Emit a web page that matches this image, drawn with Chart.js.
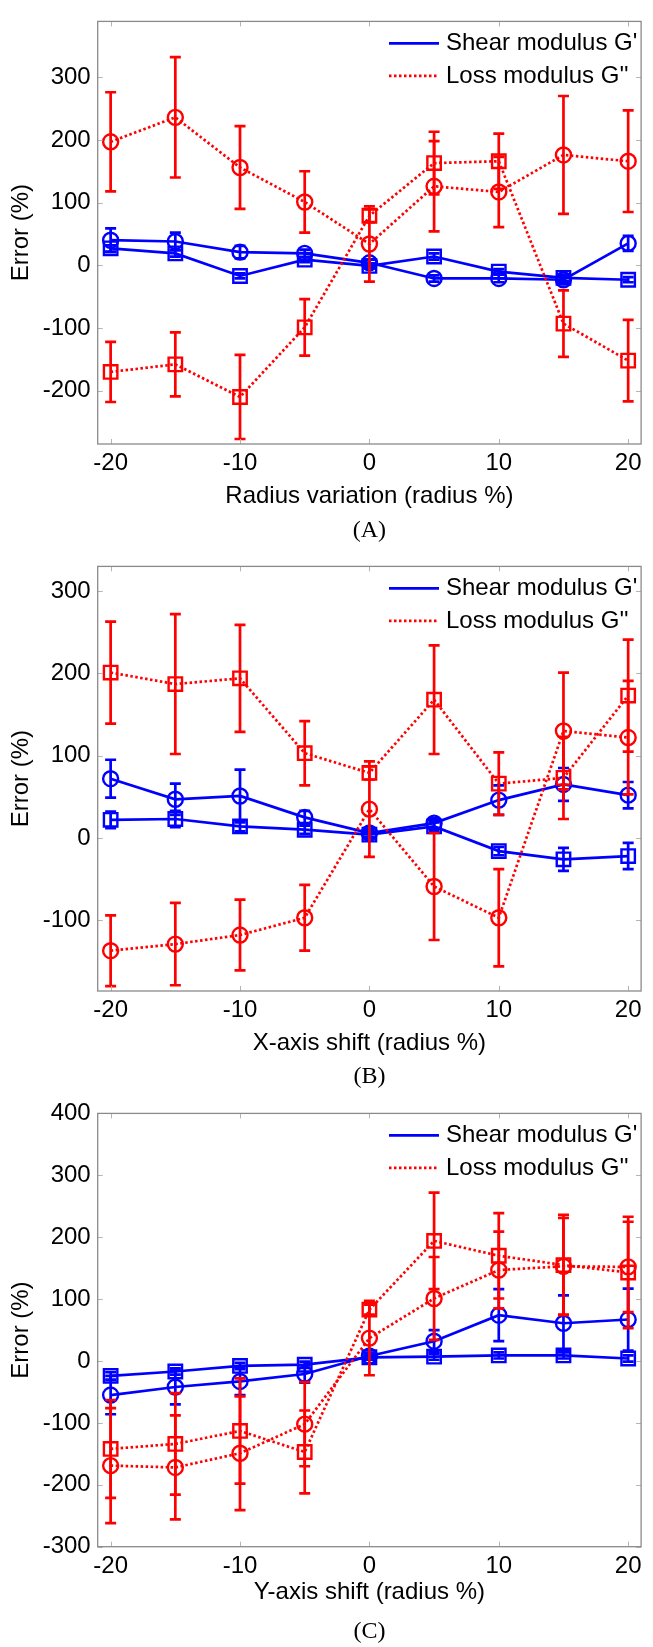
<!DOCTYPE html>
<html>
<head>
<meta charset="utf-8">
<script src="https://cdn.jsdelivr.net/npm/chart.js@4.4.1/dist/chart.umd.min.js"></script>
<style>
  html, body { margin: 0; padding: 0; background: #ffffff; }
  body { width: 653px; height: 1647px; position: relative; overflow: hidden; }
  canvas { position: absolute; left: 0; }
</style>
</head>
<body>
<canvas id="panelA" width="653" height="545" style="top:0px"></canvas>
<canvas id="panelB" width="653" height="547" style="top:545px"></canvas>
<canvas id="panelC" width="653" height="555" style="top:1092px"></canvas>
<script>
// Offsets shared by all three panels (percent of radius)
const offsets = [-20, -15, -10, -5, 0, 5, 10, 15, 20];
const xTickValues = [-20, -10, 0, 10, 20];
const xTickLabels = ['-20', '-10', '0', '10', '20'];

// (A) Radius variation
const aShearCircle    = [40, 38, 21, 19, 4, -21, -21, -23, 35];
const aShearCircleErr = [19, 14, 10, 6, 5, 5, 6, 5, 12];
const aShearSquare    = [27, 19, -17, 9, -1, 14, -10, -20, -23];
const aShearSquareErr = [5, 5, 4, 4, 4, 5, 4, 5, 4];
const aLossCircle     = [197, 236, 156, 101, 34, 126, 117, 176, 166];
const aLossCircleErr  = [79, 96, 66, 49, 60, 72, 56, 94, 81];
const aLossSquare     = [-170, -158, -210, -99, 79, 163, 166, -93, -152];
const aLossSquareErr  = [48, 51, 67, 45, 10, 50, 44, 53, 65];
const aYTicks = [-200, -100, 0, 100, 200, 300];
const aYTickLabels = ['-200', '-100', '0', '100', '200', '300'];

// (B) X-axis shift
const bShearCircle    = [72, 47, 51, 25, 6, 18, 46, 65, 52];
const bShearCircleErr = [23, 19, 32, 8, 5, 6, 18, 20, 16];
const bShearSquare    = [22, 23, 14, 10, 4, 14, -16, -26, -22];
const bShearSquareErr = [10, 10, 6, 5, 4, 5, 5, 14, 16];
const bLossCircle     = [-137, -129, -118, -97, 35, -59, -97, 130, 122];
const bLossCircleErr  = [43, 50, 43, 40, 58, 65, 59, 71, 69];
const bLossSquare     = [201, 187, 194, 103, 79, 168, 66, 73, 173];
const bLossSquareErr  = [62, 85, 65, 39, 8, 66, 38, 50, 68];
const bYTicks = [-100, 0, 100, 200, 300];
const bYTickLabels = ['-100', '0', '100', '200', '300'];

// (C) Y-axis shift
const cShearCircle    = [-55, -42, -33, -21, 8, 32, 74, 61, 67];
const cShearCircleErr = [31, 28, 22, 14, 5, 18, 42, 45, 50];
const cShearSquare    = [-24, -17, -8, -6, 6, 7, 9, 9, 4];
const cShearSquareErr = [6, 5, 5, 5, 4, 5, 5, 5, 5];
const cLossCircle     = [-169, -172, -149, -102, 37, 101, 147, 153, 152];
const cLossCircleErr  = [93, 84, 92, 68, 60, 67, 62, 78, 73];
const cLossSquare     = [-142, -134, -113, -147, 83, 194, 170, 155, 143];
const cLossSquareErr  = [79, 82, 85, 67, 8, 78, 69, 81, 90];
const cYTicks = [-300, -200, -100, 0, 100, 200, 300, 400];
const cYTickLabels = ['-300', '-200', '-100', '0', '100', '200', '300', '400'];

const legendLabels = ["Shear modulus G'", "Loss modulus G''"];

const BLUE = '#0000ff';
const RED = '#ff0000';
const SANS = '"Liberation Sans", Arial, Helvetica, sans-serif';
const SERIF = '"Liberation Serif", "Times New Roman", serif';
const FONT_SIZE = 24;
const DOT_DASH = [2.5, 2.5];

// Vertical error bars with caps, drawn through the chart's own scales
const errorBarPlugin = {
  id: 'errorBars',
  beforeDatasetDraw(chart, args) {
    const ds = chart.data.datasets[args.index];
    if (!ds.errors) return;
    const xs = chart.scales.x, ys = chart.scales.y;
    const ctx = chart.ctx;
    ctx.save();
    ctx.strokeStyle = ds.borderColor;
    ctx.lineWidth = 2.7;
    ctx.setLineDash([]);
    ds.data.forEach((p, i) => {
      const e = ds.errors[i];
      const px = xs.getPixelForValue(p.x);
      const top = ys.getPixelForValue(p.y + e);
      const bot = ys.getPixelForValue(p.y - e);
      const cap = 5.5;
      ctx.beginPath();
      ctx.moveTo(px, top); ctx.lineTo(px, bot);
      ctx.moveTo(px - cap, top); ctx.lineTo(px + cap, top);
      ctx.moveTo(px - cap, bot); ctx.lineTo(px + cap, bot);
      ctx.stroke();
    });
    ctx.restore();
  }
};

// Axes box with inward tick marks on all four sides, legend and caption
const framePlugin = {
  id: 'frameAndLegend',
  afterDraw(chart, args, opts) {
    const ctx = chart.ctx;
    const a = chart.chartArea;
    const xs = chart.scales.x, ys = chart.scales.y;
    ctx.save();
    ctx.setLineDash([]);
    // tick marks
    ctx.strokeStyle = '#b4b4b4';
    ctx.lineWidth = 1;
    const tl = 5;
    xs.ticks.forEach(t => {
      const px = Math.round(xs.getPixelForValue(t.value)) + 0.5;
      ctx.beginPath();
      ctx.moveTo(px, a.bottom); ctx.lineTo(px, a.bottom - tl);
      ctx.moveTo(px, a.top); ctx.lineTo(px, a.top + tl);
      ctx.stroke();
    });
    ys.ticks.forEach(t => {
      const py = Math.round(ys.getPixelForValue(t.value)) + 0.5;
      ctx.beginPath();
      ctx.moveTo(a.left, py); ctx.lineTo(a.left + tl, py);
      ctx.moveTo(a.right, py); ctx.lineTo(a.right - tl, py);
      ctx.stroke();
    });
    // box
    ctx.strokeStyle = '#8a8a8a';
    ctx.lineWidth = 1.3;
    ctx.strokeRect(a.left, a.top, a.right - a.left, a.bottom - a.top);

    // legend
    const rows = [
      { y: a.top + 22, color: BLUE, dash: [], text: legendLabels[0] },
      { y: a.top + 54.5, color: RED, dash: DOT_DASH, text: legendLabels[1] }
    ];
    ctx.font = FONT_SIZE + 'px ' + SANS;
    ctx.textBaseline = 'middle';
    ctx.textAlign = 'left';
    rows.forEach(r => {
      ctx.strokeStyle = r.color;
      ctx.lineWidth = 2.7;
      ctx.setLineDash(r.dash);
      ctx.beginPath();
      ctx.moveTo(389, r.y); ctx.lineTo(439, r.y);
      ctx.stroke();
      ctx.setLineDash([]);
      ctx.fillStyle = '#000';
      ctx.fillText(r.text, 446, r.y);
    });

    // panel caption
    ctx.font = FONT_SIZE + 'px ' + SERIF;
    ctx.textAlign = 'center';
    ctx.fillStyle = '#000';
    ctx.fillText(opts.caption, (a.left + a.right) / 2, a.bottom + opts.captionOffset);
    ctx.restore();
  }
};

function series(xv, yv, err, color, dashed, marker, radius) {
  return {
    data: xv.map((x, i) => ({ x: x, y: yv[i] })),
    errors: err,
    borderColor: color,
    backgroundColor: 'rgba(0,0,0,0)',
    borderWidth: 2.7,
    borderDash: dashed ? DOT_DASH : [],
    pointStyle: marker,
    pointRadius: radius,
    pointBorderWidth: 2.4,
    pointBorderColor: color,
    pointBackgroundColor: 'rgba(0,0,0,0)',
    tension: 0,
    clip: false
  };
}

function makePanel(id, p) {
  const font = { family: SANS, size: FONT_SIZE };
  return new Chart(document.getElementById(id), {
    type: 'line',
    data: {
      datasets: [
        series(offsets, p.lossSquare, p.lossSquareErr, RED, true, 'rect', 9.5),
        series(offsets, p.lossCircle, p.lossCircleErr, RED, true, 'circle', 7.5),
        series(offsets, p.shearSquare, p.shearSquareErr, BLUE, false, 'rect', 9.5),
        series(offsets, p.shearCircle, p.shearCircleErr, BLUE, false, 'circle', 7.5)
      ]
    },
    options: {
      responsive: false,
      animation: false,
      devicePixelRatio: 1,
      layout: { padding: { top: p.chartTop, right: 2, left: 0, bottom: 0 } },
      plugins: {
        legend: { display: false },
        tooltip: { enabled: false },
        frameAndLegend: { caption: p.caption, captionOffset: p.captionOffset }
      },
      scales: {
        x: {
          type: 'linear',
          min: -21, max: 21,
          afterBuildTicks: s => { s.ticks = xTickValues.map(v => ({ value: v })); },
          afterFit: s => { s.height = p.xAxisHeight; },
          grid: { display: false, drawTicks: false },
          border: { display: false },
          ticks: {
            font: font, color: '#000', padding: 5, maxRotation: 0, autoSkip: false,
            callback: v => xTickLabels[xTickValues.indexOf(v)]
          },
          title: {
            display: true, text: p.xTitle, font: font, color: '#000',
            padding: { top: 0, bottom: p.xTitlePad }
          }
        },
        y: {
          type: 'linear',
          min: p.yMin, max: p.yMax,
          afterBuildTicks: s => { s.ticks = p.yTicks.map(v => ({ value: v })); },
          afterFit: s => { s.width = 97.7; },
          grid: { display: false, drawTicks: false },
          border: { display: false },
          ticks: {
            font: font, color: '#000', padding: 7,
            callback: v => p.yTickLabels[p.yTicks.indexOf(v)]
          },
          title: {
            display: true, text: 'Error (%)', font: font, color: '#000',
            padding: { top: 7.3, bottom: 0 }
          }
        }
      }
    },
    plugins: [errorBarPlugin, framePlugin]
  });
}

makePanel('panelA', {
  lossSquare: aLossSquare, lossSquareErr: aLossSquareErr,
  lossCircle: aLossCircle, lossCircleErr: aLossCircleErr,
  shearSquare: aShearSquare, shearSquareErr: aShearSquareErr,
  shearCircle: aShearCircle, shearCircleErr: aShearCircleErr,
  yMin: -285, yMax: 389, yTicks: aYTicks, yTickLabels: aYTickLabels,
  chartTop: 9.5, xAxisHeight: 101, xTitlePad: 34.6,
  xTitle: 'Radius variation (radius %)', caption: '(A)', captionOffset: 87
});

makePanel('panelB', {
  lossSquare: bLossSquare, lossSquareErr: bLossSquareErr,
  lossCircle: bLossCircle, lossCircleErr: bLossCircleErr,
  shearSquare: bShearSquare, shearSquareErr: bShearSquareErr,
  shearCircle: bShearCircle, shearCircleErr: bShearCircleErr,
  yMin: -186, yMax: 330, yTicks: bYTicks, yTickLabels: bYTickLabels,
  chartTop: 10, xAxisHeight: 101, xTitlePad: 34.6,
  xTitle: 'X-axis shift (radius %)', caption: '(B)', captionOffset: 86
});

makePanel('panelC', {
  lossSquare: cLossSquare, lossSquareErr: cLossSquareErr,
  lossCircle: cLossCircle, lossCircleErr: cLossCircleErr,
  shearSquare: cShearSquare, shearSquareErr: cShearSquareErr,
  shearCircle: cShearCircle, shearCircleErr: cShearCircleErr,
  yMin: -300, yMax: 400, yTicks: cYTicks, yTickLabels: cYTickLabels,
  chartTop: 20.3, xAxisHeight: 100.3, xTitlePad: 40.4,
  xTitle: 'Y-axis shift (radius %)', caption: '(C)', captionOffset: 85
});
</script>
</body>
</html>
